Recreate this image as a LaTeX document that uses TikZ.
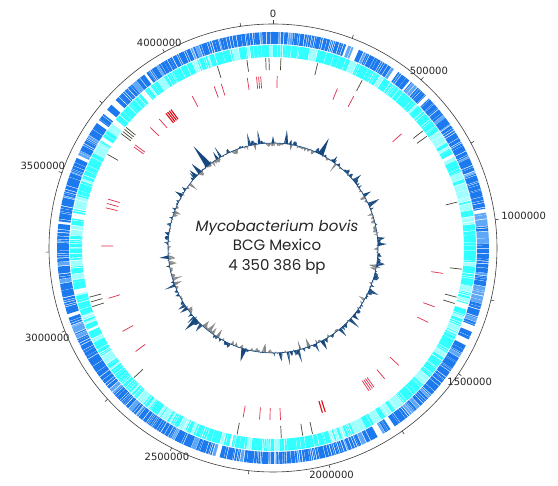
\documentclass[tikz,border=0pt]{standalone}
\usepackage{fontspec}
\setmainfont{DejaVu Sans}
\newfontfamily\titlefont{Poppins}
\definecolor{geneA}{RGB}{28,122,238}
\definecolor{geneAl}{RGB}{95,168,248}
\definecolor{geneB}{RGB}{50,255,255}
\definecolor{geneBl}{RGB}{160,255,255}
\definecolor{gcpos}{RGB}{22,72,125}
\definecolor{gcneg}{RGB}{135,135,135}
\definecolor{featdark}{RGB}{70,70,55}
\definecolor{featred}{RGB}{225,45,75}
\definecolor{featbold}{RGB}{225,10,20}
\definecolor{scalecol}{RGB}{60,60,60}
\newcommand\genering[8]{%
  \pgfmathsetseed{#6}%
  \def\gang{0}%
  \loop
    \pgfmathsetmacro\glen{0.25+#7*rnd*rnd}%
    \pgfmathsetmacro\ggap{rnd<0.04 ? 0.6+1.2*rnd : 0.05+#8*rnd}%
    \pgfmathsetmacro\gend{min(\gang+\glen,360)}%
    \pgfmathsetmacro\gsel{rnd}%
    \ifdim\gsel pt<#5pt \def\gcol{#4}\else\def\gcol{#3}\fi
    \pgfmathsetmacro\gsa{90-\gang}%
    \pgfmathsetmacro\gea{90-\gend}%
    \fill[\gcol] (\gsa:#1) arc[start angle=\gsa,end angle=\gea,radius=#1] -- (\gea:#2) arc[start angle=\gea,end angle=\gsa,radius=#2] -- cycle;
    \pgfmathsetmacro\gang{\gend+\ggap}%
  \ifdim\gang pt<359.9pt\repeat
}
\tikzset{
  scaletick/.style={scalecol, line width=0.6pt},
  scalelabel/.style={font=\fontsize{10}{12}\selectfont, text=black!85, inner sep=1pt},
  darkfeat/.style={featdark, line width=0.7pt},
  redfeat/.style={featred, line width=0.7pt},
  boldfeat/.style={featbold, line width=1.1pt},
}
\begin{document}
\begin{tikzpicture}[x=1pt,y=1pt]
\useasboundingbox[fill=white] (-273,-238) rectangle (285,248);
\coordinate (c) at (0,0);
% scale circle
\draw[scaletick] (c) circle (224);
\foreach \k in {0,...,17} {
  \pgfmathsetmacro\ta{90-\k*20.6878}
  \draw[scaletick] (\ta:224) -- (\ta:227.5);
}
\foreach \k/\t in {0/0,1/500000,2/1000000,3/1500000,4/2000000,5/2500000,6/3000000,7/3500000,8/4000000} {
  \pgfmathsetmacro\ta{90-\k*41.3756}
  \pgfmathsetmacro\an{270-\k*41.3756}
  \node[scalelabel, anchor=\an] (lab\k) at (\ta:229) {\t};
}
% gene rings
\genering{216}{204}{geneA}{geneAl}{0.2}{11}{2.0}{0.18}
\genering{203}{191}{geneB}{geneBl}{0.25}{57}{3.0}{0.2}
% features
\foreach \a in {343,352.1,357.8,358.8,2.4,13.6,28,52,54,76,96.4,105,107,168,171,177.5,190.9,227,252,253.5,255,299.5,307,307.8,308.6,309.4} {
  \pgfmathsetmacro\ta{90-\a}
  \draw[darkfeat] (\ta:178) -- (\ta:190);
}
\foreach \a in {332,340,342.5,351.4,354.5,355.2,355.9,1.4,22,28,48.4,98.5,110,115.6,133,139.5,144,144.7,145.4,146.1,177.5,181,184.5,190,233,241,253,270.7,283.5,285,286.5,306,306.8,314.5,318.6} {
  \pgfmathsetmacro\ta{90-\a}
  \draw[redfeat] (\ta:160) -- (\ta:172);
}
\foreach \a in {162.3,163.3,321.5,322.2,322.9,323.6} {
  \pgfmathsetmacro\ta{90-\a}
  \draw[boldfeat] (\ta:160) -- (\ta:172);
}
% GC plot
\pgfmathsetseed{2024}
\xdef\vprev{0}
\foreach \i in {0,...,480} {
  \pgfmathsetmacro\vcur{rnd<0.07 ? (rnd<0.55 ? 5+9*rnd : -(5+6*rnd)) : 0.35*\vprev+8*(rnd-0.48)}
  \pgfmathsetmacro\aone{90-(\i-1)*0.75}
  \pgfmathsetmacro\atwo{90-\i*0.75}
  \pgfmathsetmacro\rone{105+\vprev}
  \pgfmathsetmacro\rtwo{105+\vcur}
  \pgfmathsetmacro\vavg{\vprev+\vcur}
  \ifdim\vavg pt>0pt \def\gcc{gcpos}\else\def\gcc{gcneg}\fi
  \ifnum\i>0 \fill[\gcc] (\aone:105) -- (\aone:\rone) -- (\atwo:\rtwo) -- (\atwo:105) -- cycle;\fi
  \global\let\vprev\vcur
}
\foreach \a/\h/\w in {322/24/1.8,316/12/1.2,313/9/1,328/8/0.8,0/7/0.8,27/18/1.6,35/7/0.8,60/8/1,88/9/1,100/-8/1,130/7/1,152/10/1.2,160/-9/1,196/13/1.5,212/-9/1,227/15/1.5,235/8/1,250/-8/1,265/9/1,290/-7/1,300/8/1,350/-6/0.8,10/-6/0.8} {
  \pgfmathsetmacro\ta{90-\a}
  \pgfmathsetmacro\tl{90-\a+\w}
  \pgfmathsetmacro\tr{90-\a-\w}
  \pgfmathsetmacro\rr{105+\h}
  \ifdim\h pt>0pt \def\gcc{gcpos}\else\def\gcc{gcneg}\fi
  \fill[\gcc] (\tl:105) -- (\ta:\rr) -- (\tr:105) -- cycle;
}
\draw[gcpos, line width=0.6pt] (c) circle (105);
% title
\node[font=\titlefont\fontsize{15}{19.5}\selectfont, align=center, text=black!85] (title) at (4,1) {{\itshape Mycobacterium bovis}\\BCG Mexico\\4 350 386 bp};
\end{tikzpicture}
\end{document}
